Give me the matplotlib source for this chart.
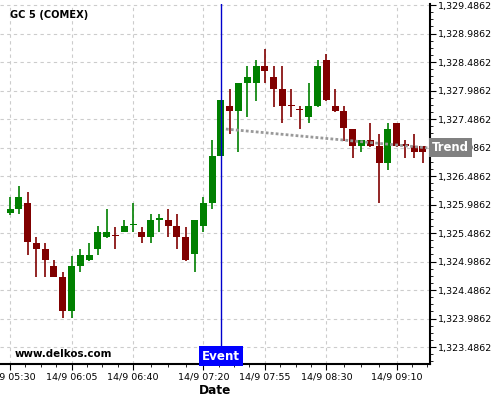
import matplotlib
matplotlib.use('Agg')
import matplotlib.pyplot as plt
import matplotlib.transforms as mtrans
import numpy as np

# candles, 5 minute bars from 14/9 05:30
opens = [1325.83, 1325.91, 1326.01, 1325.31, 1325.21, 1324.91, 1324.71, 1324.11,
         1324.91, 1325.02, 1325.21, 1325.42, 1325.44, 1325.50, 1325.62, 1325.50,
         1325.42, 1325.72, 1325.71, 1325.61, 1325.42, 1325.11, 1325.61, 1326.02,
         1326.83, 1327.71, 1327.63, 1328.12, 1328.12, 1328.42, 1328.22, 1328.01,
         1327.72, 1327.65, 1327.52, 1327.71, 1328.52, 1327.71, 1327.63, 1327.31,
         1327.01, 1327.12, 1327.01, 1326.71, 1327.41, 1327.03, 1327.01, 1327.01]
highs = [1326.12, 1326.31, 1326.21, 1325.42, 1325.31, 1325.01, 1324.80, 1325.08,
         1325.21, 1325.31, 1325.61, 1325.91, 1325.60, 1325.71, 1326.01, 1325.60,
         1325.82, 1325.82, 1325.91, 1325.82, 1325.60, 1325.71, 1326.12, 1327.12,
         1327.82, 1328.01, 1328.12, 1328.42, 1328.52, 1328.72, 1328.42, 1328.42,
         1328.01, 1327.71, 1328.12, 1328.52, 1328.62, 1328.01, 1327.71, 1327.31,
         1327.12, 1327.41, 1327.22, 1327.41, 1327.41, 1327.12, 1327.22, 1327.01]
lows = [1325.80, 1325.82, 1325.10, 1324.71, 1324.71, 1324.71, 1324.00, 1324.00,
        1324.80, 1325.00, 1325.10, 1325.40, 1325.21, 1325.50, 1325.50, 1325.31,
        1325.31, 1325.50, 1325.42, 1325.21, 1325.00, 1324.80, 1325.50, 1325.91,
        1326.83, 1327.22, 1326.91, 1327.52, 1327.81, 1328.12, 1327.70, 1327.42,
        1327.52, 1327.31, 1327.42, 1327.70, 1327.80, 1327.61, 1327.10, 1326.81,
        1326.90, 1327.00, 1326.01, 1326.60, 1327.00, 1326.81, 1326.81, 1326.71]
closes = [1325.91, 1326.12, 1325.32, 1325.21, 1325.02, 1324.72, 1324.11, 1324.91,
          1325.10, 1325.10, 1325.50, 1325.50, 1325.43, 1325.61, 1325.63, 1325.42,
          1325.71, 1325.73, 1325.61, 1325.42, 1325.02, 1325.71, 1326.01, 1326.83,
          1327.82, 1327.63, 1328.12, 1328.22, 1328.42, 1328.33, 1328.01, 1327.71,
          1327.71, 1327.64, 1327.71, 1328.42, 1327.82, 1327.63, 1327.32, 1327.01,
          1327.12, 1327.01, 1326.71, 1327.31, 1327.01, 1327.02, 1326.91, 1326.91]

tick_idx = [0, 7, 14, 22, 29, 36, 44]
tick_labels = ['14/9 05:30', '14/9 06:05', '14/9 06:40', '14/9 07:20',
               '14/9 07:55', '14/9 08:30', '14/9 09:10']

event_idx = 24
trend_x = [24.57, 47.5]
trend_y = [1327.31, 1326.98]

green = '#008000'
red = '#800000'

fig = plt.figure(figsize=(5, 4), dpi=100)
ax = fig.add_axes([0.0, 0.09, 0.86, 0.90])

x = np.arange(len(opens))
o = np.array(opens)
c = np.array(closes)
cols = [green if cc >= oo else red for oo, cc in zip(o, c)]

# wicks then bodies
ax.vlines(x, lows, highs, colors=cols, lw=1.2, zorder=3)
body_h = np.maximum(np.abs(c - o), 0.025)
body_b = np.minimum(o, c)
ax.bar(x, body_h, bottom=body_b, width=0.8, color=cols, zorder=4, linewidth=0)

# trend line
ax.plot(trend_x, trend_y, color='#999999', lw=2, ls=(0, (1, 0.8)), zorder=5)

# event line
ax.axvline(event_idx, color='#0000cc', lw=1, zorder=6)

ax.set_xlim(-1.14, 47.8)

ax.set_xticks(tick_idx)
ax.set_xticklabels(tick_labels)
minor = []
for a, b in zip(tick_idx[:-1], tick_idx[1:]):
    minor += list(np.linspace(a, b, 5)[1:-1])
minor += [tick_idx[-1] + 1.75, tick_idx[-1] + 3.5]
ax.set_xticks(minor, minor=True)

yt = 1323.4862 + 0.5 * np.arange(13)
ax.set_yticks(yt)
ax.set_yticks(1323.4862 + 0.125 * np.arange(-2, 50), minor=True)
ax.set_yticklabels(['{:,.4f}'.format(v) for v in yt])
ax.set_ylim(1323.188, 1329.504)
ax.yaxis.tick_right()

ax.tick_params(axis='both', which='major', labelsize=6.8, length=4, width=0.8, pad=2)
ax.tick_params(axis='both', which='minor', length=2, width=0.6)

for s in ['left', 'top']:
    ax.spines[s].set_visible(False)
for s in ['right', 'bottom']:
    ax.spines[s].set_linewidth(1.5)

ax.grid(True, which='major', color='#cccccc', ls=(0, (3, 3)), lw=0.8)
ax.set_axisbelow(True)

ax.set_xlabel('Date', fontsize=8.7, fontweight='bold', labelpad=2)

ax.text(0.023, 0.97, 'GC 5 (COMEX)', transform=ax.transAxes, fontsize=7.1,
        fontweight='bold', va='center', ha='left')
ax.text(0.035, 0.027, 'www.delkos.com', transform=ax.transAxes, fontsize=7.4,
        fontweight='bold', va='center', ha='left')

tx = mtrans.blended_transform_factory(ax.transData, ax.transAxes)
ax.text(event_idx, 0.022, 'Event', transform=tx, fontsize=8.6, fontweight='bold',
        color='white', ha='center', va='center', zorder=10,
        bbox=dict(boxstyle='square,pad=0.28', fc='#0000ff', ec='none'))

ty = mtrans.blended_transform_factory(ax.transAxes, ax.transData)
ax.text(1.004, trend_y[-1], 'Trend', transform=ty, fontsize=8.4, fontweight='bold',
        color='white', ha='left', va='center', zorder=10, clip_on=False,
        bbox=dict(boxstyle='square,pad=0.25', fc='#808080', ec='none'))

fig.savefig('out.png', dpi=100)
